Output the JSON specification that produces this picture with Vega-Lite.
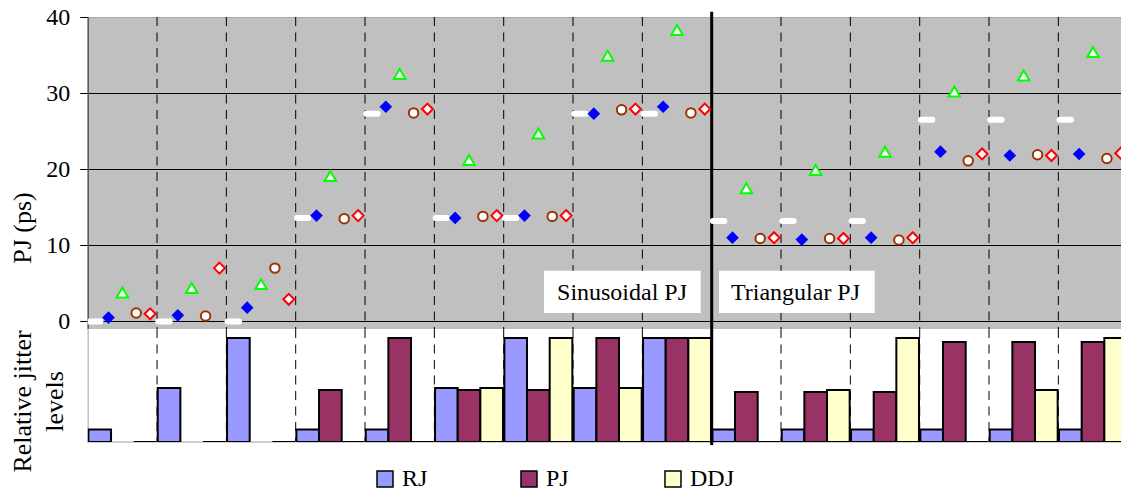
{
  "$schema": "https://vega.github.io/schema/vega-lite/v6.json",
  "padding": {"left": 9.7, "top": 5, "right": 0, "bottom": 0},
  "spacing": 0,
  "bounds": "flush",
  "config": {
    "font": "Liberation Serif",
    "view": {"stroke": null},
    "axis": {"labelFont": "Liberation Serif", "titleFont": "Liberation Serif"},
    "legend": {"labelFont": "Liberation Serif"}
  },
  "datasets": {
    "pj": [
      {"g": 1, "s": "actual", "v": 0}, {"g": 1, "s": "m1", "v": 0.5}, {"g": 1, "s": "m2", "v": 3.8}, {"g": 1, "s": "m3", "v": 1.1}, {"g": 1, "s": "m4", "v": 1.0},
      {"g": 2, "s": "actual", "v": 0}, {"g": 2, "s": "m1", "v": 0.8}, {"g": 2, "s": "m2", "v": 4.4}, {"g": 2, "s": "m3", "v": 0.7}, {"g": 2, "s": "m4", "v": 7.0},
      {"g": 3, "s": "actual", "v": 0}, {"g": 3, "s": "m1", "v": 1.8}, {"g": 3, "s": "m2", "v": 4.9}, {"g": 3, "s": "m3", "v": 7.0}, {"g": 3, "s": "m4", "v": 2.9},
      {"g": 4, "s": "actual", "v": 13.6}, {"g": 4, "s": "m1", "v": 13.9}, {"g": 4, "s": "m2", "v": 19.1}, {"g": 4, "s": "m3", "v": 13.5}, {"g": 4, "s": "m4", "v": 13.9},
      {"g": 5, "s": "actual", "v": 27.3}, {"g": 5, "s": "m1", "v": 28.2}, {"g": 5, "s": "m2", "v": 32.5}, {"g": 5, "s": "m3", "v": 27.4}, {"g": 5, "s": "m4", "v": 27.9},
      {"g": 6, "s": "actual", "v": 13.6}, {"g": 6, "s": "m1", "v": 13.6}, {"g": 6, "s": "m2", "v": 21.2}, {"g": 6, "s": "m3", "v": 13.8}, {"g": 6, "s": "m4", "v": 13.9},
      {"g": 7, "s": "actual", "v": 13.6}, {"g": 7, "s": "m1", "v": 13.9}, {"g": 7, "s": "m2", "v": 24.7}, {"g": 7, "s": "m3", "v": 13.8}, {"g": 7, "s": "m4", "v": 13.9},
      {"g": 8, "s": "actual", "v": 27.3}, {"g": 8, "s": "m1", "v": 27.3}, {"g": 8, "s": "m2", "v": 34.9}, {"g": 8, "s": "m3", "v": 27.8}, {"g": 8, "s": "m4", "v": 27.9},
      {"g": 9, "s": "actual", "v": 27.3}, {"g": 9, "s": "m1", "v": 28.2}, {"g": 9, "s": "m2", "v": 38.3}, {"g": 9, "s": "m3", "v": 27.4}, {"g": 9, "s": "m4", "v": 27.9},
      {"g": 10, "s": "actual", "v": 13.2}, {"g": 10, "s": "m1", "v": 11.0}, {"g": 10, "s": "m2", "v": 17.5}, {"g": 10, "s": "m3", "v": 10.9}, {"g": 10, "s": "m4", "v": 11.0},
      {"g": 11, "s": "actual", "v": 13.2}, {"g": 11, "s": "m1", "v": 10.75}, {"g": 11, "s": "m2", "v": 19.9}, {"g": 11, "s": "m3", "v": 10.9}, {"g": 11, "s": "m4", "v": 10.9},
      {"g": 12, "s": "actual", "v": 13.2}, {"g": 12, "s": "m1", "v": 11.0}, {"g": 12, "s": "m2", "v": 22.3}, {"g": 12, "s": "m3", "v": 10.7}, {"g": 12, "s": "m4", "v": 11.0},
      {"g": 13, "s": "actual", "v": 26.5}, {"g": 13, "s": "m1", "v": 22.3}, {"g": 13, "s": "m2", "v": 30.2}, {"g": 13, "s": "m3", "v": 21.1}, {"g": 13, "s": "m4", "v": 22.0},
      {"g": 14, "s": "actual", "v": 26.5}, {"g": 14, "s": "m1", "v": 21.8}, {"g": 14, "s": "m2", "v": 32.3}, {"g": 14, "s": "m3", "v": 21.9}, {"g": 14, "s": "m4", "v": 21.8},
      {"g": 15, "s": "actual", "v": 26.5}, {"g": 15, "s": "m1", "v": 22.0}, {"g": 15, "s": "m2", "v": 35.4}, {"g": 15, "s": "m3", "v": 21.4}, {"g": 15, "s": "m4", "v": 22.1}
    ],
    "levels": [
      {"g": 1, "t": "RJ", "level": 0.12}, {"g": 1, "t": "DDJ", "level": 0},
      {"g": 2, "t": "RJ", "level": 0.52}, {"g": 2, "t": "DDJ", "level": 0},
      {"g": 3, "t": "RJ", "level": 1.0}, {"g": 3, "t": "DDJ", "level": 0},
      {"g": 4, "t": "RJ", "level": 0.12}, {"g": 4, "t": "PJ", "level": 0.5}, {"g": 4, "t": "DDJ", "level": 0},
      {"g": 5, "t": "RJ", "level": 0.12}, {"g": 5, "t": "PJ", "level": 1.0}, {"g": 5, "t": "DDJ", "level": 0},
      {"g": 6, "t": "RJ", "level": 0.52}, {"g": 6, "t": "PJ", "level": 0.5}, {"g": 6, "t": "DDJ", "level": 0.52},
      {"g": 7, "t": "RJ", "level": 1.0}, {"g": 7, "t": "PJ", "level": 0.5}, {"g": 7, "t": "DDJ", "level": 1.0},
      {"g": 8, "t": "RJ", "level": 0.52}, {"g": 8, "t": "PJ", "level": 1.0}, {"g": 8, "t": "DDJ", "level": 0.52},
      {"g": 9, "t": "RJ", "level": 1.0}, {"g": 9, "t": "PJ", "level": 1.0}, {"g": 9, "t": "DDJ", "level": 1.0},
      {"g": 10, "t": "RJ", "level": 0.12}, {"g": 10, "t": "PJ", "level": 0.48}, {"g": 10, "t": "DDJ", "level": 0},
      {"g": 11, "t": "RJ", "level": 0.12}, {"g": 11, "t": "PJ", "level": 0.48}, {"g": 11, "t": "DDJ", "level": 0.5},
      {"g": 12, "t": "RJ", "level": 0.12}, {"g": 12, "t": "PJ", "level": 0.48}, {"g": 12, "t": "DDJ", "level": 1.0},
      {"g": 13, "t": "RJ", "level": 0.12}, {"g": 13, "t": "PJ", "level": 0.96}, {"g": 13, "t": "DDJ", "level": 0},
      {"g": 14, "t": "RJ", "level": 0.12}, {"g": 14, "t": "PJ", "level": 0.96}, {"g": 14, "t": "DDJ", "level": 0.5},
      {"g": 15, "t": "RJ", "level": 0.12}, {"g": 15, "t": "PJ", "level": 0.96}, {"g": 15, "t": "DDJ", "level": 1.0}
    ]
  },
  "resolve": {
    "scale": {"xOffset": "independent", "fill": "independent"},
    "legend": {"fill": "independent"}
  },
  "vconcat": [
    {
      "width": 1034,
      "height": 312,
      "view": {"fill": "#C0C0C0", "stroke": null},
      "data": {"name": "pj"},
      "layer": [
        {
          "transform": [{"filter": "datum.s === 'actual' && datum.g > 1"}],
          "mark": {"type": "rule", "color": "#000000", "strokeWidth": 1, "strokeDash": [9, 6.5], "clip": true},
          "encoding": {
            "x": {"field": "g", "type": "ordinal", "bandPosition": 0, "scale": {"range": [0, 1040], "paddingInner": 0, "paddingOuter": 0}, "axis": null}
          }
        },
        {
          "data": {"values": [{}]},
          "mark": {"type": "rule", "color": "#000000", "strokeWidth": 3},
          "encoding": {
            "x": {"datum": 10, "type": "ordinal", "bandPosition": 0},
            "y": {"datum": 40.7, "type": "quantitative"},
            "y2": {"datum": -1}
          }
        },
        {
          "transform": [{"filter": "datum.s === 'actual'"}],
          "mark": {"type": "point", "shape": "stroke", "stroke": "#FFFFFF", "strokeWidth": 6, "strokeCap": "round", "size": 130, "opacity": 1, "filled": false, "clip": true},
          "encoding": {
            "x": {"field": "g", "type": "ordinal"},
            "xOffset": {"field": "s", "type": "nominal", "scale": {"domain": ["actual", "m1", "m2", "m3", "m4"], "paddingInner": 0, "paddingOuter": 0.5}},
            "y": {
              "field": "v", "type": "quantitative",
              "scale": {"domain": [-1, 40], "nice": false, "zero": false},
              "axis": {
                "values": [0, 10, 20, 30, 40],
                "title": "PJ (ps)",
                "titleFontSize": 26, "titleFontWeight": "normal", "titleColor": "#000000",
                "titleX": -64.7, "titleY": 210.5, "titleBaseline": "middle", "titleAlign": "center", "titleAngle": -90,
                "labelFontSize": 24, "labelColor": "#000000", "labelPadding": 10,
                "tickSize": 8, "tickColor": "#000000", "tickWidth": 1,
                "domainColor": "#555555", "domainWidth": 1.5,
                "grid": true, "gridOpacity": 1, "gridWidth": 1,
                "gridColor": {"condition": {"test": "datum.value === 40", "value": "#A8A8A8"}, "value": "#000000"}
              }
            }
          }
        },
        {
          "transform": [{"filter": "datum.s === 'm1'"}],
          "mark": {"type": "point", "shape": "diamond", "filled": true, "fill": "#0000FF", "size": 160, "opacity": 1, "clip": true},
          "encoding": {"x": {"field": "g", "type": "ordinal"}, "xOffset": {"field": "s", "type": "nominal"}, "y": {"field": "v", "type": "quantitative"}}
        },
        {
          "transform": [{"filter": "datum.s === 'm2'"}],
          "mark": {"type": "point", "shape": "triangle-up", "filled": true, "fill": "#FFFFFF", "stroke": "#00FF00", "strokeWidth": 2, "size": 132, "opacity": 1, "clip": true},
          "encoding": {"x": {"field": "g", "type": "ordinal"}, "xOffset": {"field": "s", "type": "nominal"}, "y": {"field": "v", "type": "quantitative"}}
        },
        {
          "transform": [{"filter": "datum.s === 'm3'"}],
          "mark": {"type": "point", "shape": "circle", "filled": true, "fill": "#FFFFFF", "stroke": "#993300", "strokeWidth": 2, "size": 90, "opacity": 1, "clip": true},
          "encoding": {"x": {"field": "g", "type": "ordinal"}, "xOffset": {"field": "s", "type": "nominal"}, "y": {"field": "v", "type": "quantitative"}}
        },
        {
          "transform": [{"filter": "datum.s === 'm4'"}],
          "mark": {"type": "point", "shape": "diamond", "filled": true, "fill": "#FFFFFF", "stroke": "#FF0000", "strokeWidth": 2, "size": 120, "opacity": 1, "clip": true},
          "encoding": {"x": {"field": "g", "type": "ordinal"}, "xOffset": {"field": "s", "type": "nominal"}, "y": {"field": "v", "type": "quantitative"}}
        },
        {
          "data": {"values": [{}]},
          "mark": {"type": "point", "shape": "M-167.7,-21H-11V21.3H-167.7Z", "filled": true, "fill": "#FFFFFF", "size": 4, "opacity": 1},
          "encoding": {"x": {"datum": 10, "type": "ordinal", "bandPosition": 0}, "y": {"datum": 3.9, "type": "quantitative"}}
        },
        {
          "data": {"values": [{}]},
          "mark": {"type": "point", "shape": "M7.3,-21H163V21.3H7.3Z", "filled": true, "fill": "#FFFFFF", "size": 4, "opacity": 1},
          "encoding": {"x": {"datum": 10, "type": "ordinal", "bandPosition": 0}, "y": {"datum": 3.9, "type": "quantitative"}}
        },
        {
          "data": {"values": [{}]},
          "mark": {"type": "text", "text": "Sinusoidal PJ", "align": "right", "baseline": "alphabetic", "dx": -24.7, "dy": 8, "fontSize": 24, "font": "Liberation Serif", "fontWeight": "normal", "fill": "#000000"},
          "encoding": {"x": {"datum": 10, "type": "ordinal", "bandPosition": 0}, "y": {"datum": 3.9, "type": "quantitative"}}
        },
        {
          "data": {"values": [{}]},
          "mark": {"type": "text", "text": "Triangular PJ", "align": "left", "baseline": "alphabetic", "dx": 19.3, "dy": 8, "fontSize": 24, "font": "Liberation Serif", "fontWeight": "normal", "fill": "#000000"},
          "encoding": {"x": {"datum": 10, "type": "ordinal", "bandPosition": 0}, "y": {"datum": 3.9, "type": "quantitative"}}
        }
      ]
    },
    {
      "width": 1034,
      "height": 113,
      "view": {"fill": "#FFFFFF", "stroke": null},
      "data": {"name": "levels"},
      "layer": [
        {
          "transform": [{"filter": "datum.t === 'RJ' && datum.g > 1"}],
          "mark": {"type": "rule", "color": "#000000", "strokeWidth": 1, "strokeDash": [9, 6.5], "clip": true},
          "encoding": {
            "x": {"field": "g", "type": "ordinal", "bandPosition": 0, "scale": {"range": [0, 1040], "paddingInner": 0, "paddingOuter": 0}, "axis": null}
          }
        },
        {
          "data": {"values": [{}]},
          "mark": {"type": "rule", "color": "#C0C0C0", "strokeWidth": 1.5},
          "encoding": {"y": {"datum": 0, "type": "quantitative"}}
        },
        {
          "mark": {"type": "rect", "stroke": "#000000", "strokeWidth": 2, "clip": true},
          "encoding": {
            "x": {"field": "g", "type": "ordinal"},
            "xOffset": {"field": "t", "type": "nominal", "scale": {"domain": ["RJ", "PJ", "DDJ"], "paddingInner": 0, "paddingOuter": 0.03}},
            "y": {
              "field": "level", "type": "quantitative", "stack": null,
              "scale": {"domain": [0, 1.086], "nice": false, "zero": false},
              "axis": {
                "title": ["Relative jitter", "levels"],
                "titleFontSize": 26, "titleFontWeight": "normal", "titleColor": "#000000",
                "titleX": -65, "titleY": 72, "titleBaseline": "middle", "titleAlign": "center", "titleAngle": -90, "titleLineHeight": 32,
                "labels": false, "ticks": false, "grid": false,
                "domainColor": "#C0C0C0", "domainWidth": 1.5
              }
            },
            "y2": {"datum": 0},
            "fill": {
              "field": "t", "type": "nominal",
              "scale": {"domain": ["RJ", "PJ", "DDJ"], "range": ["#9999FF", "#993366", "#FFFFCC"]},
              "legend": {
                "title": null, "orient": "none", "legendX": 285.3, "legendY": 138,
                "direction": "horizontal", "symbolType": "square", "symbolSize": 256,
                "symbolStrokeColor": "#000000", "symbolStrokeWidth": 1.5,
                "labelFontSize": 24, "labelColor": "#000000", "labelOffset": 5,
                "columnPadding": 70, "gridAlign": "all", "padding": 0
              }
            }
          }
        },
        {
          "data": {"values": [{}]},
          "mark": {"type": "rule", "color": "#000000", "strokeWidth": 3},
          "encoding": {
            "x": {"datum": 10, "type": "ordinal", "bandPosition": 0},
            "y": {"datum": 1.086, "type": "quantitative"},
            "y2": {"datum": -0.03}
          }
        }
      ]
    }
  ]
}
